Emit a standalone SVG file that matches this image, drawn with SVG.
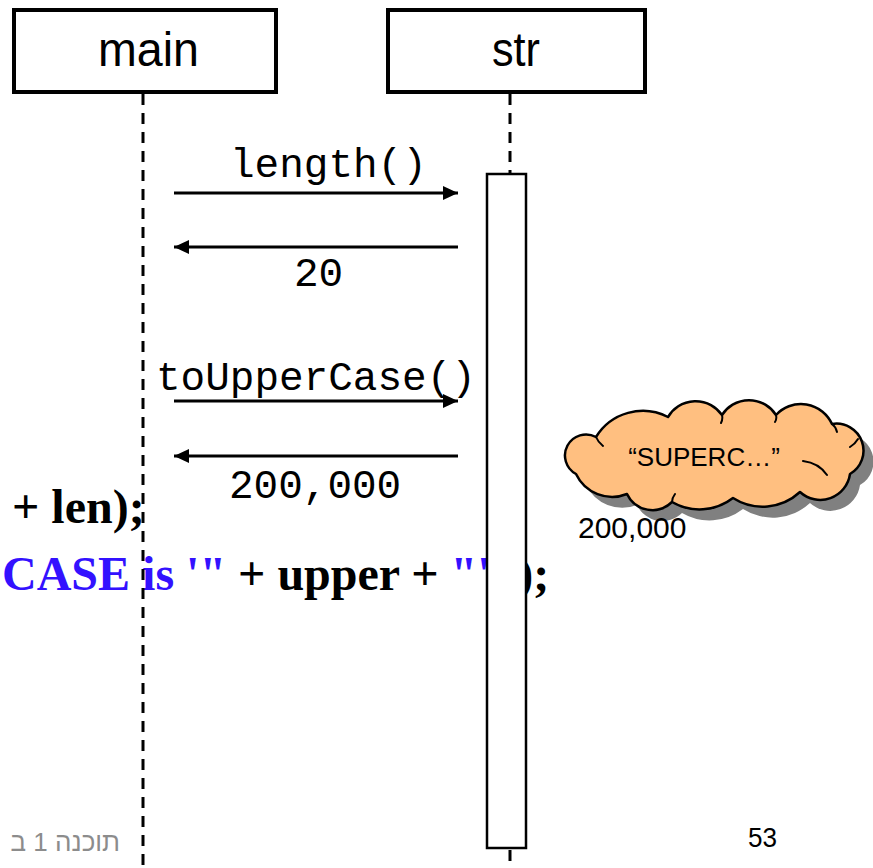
<svg xmlns="http://www.w3.org/2000/svg" width="873" height="868" viewBox="0 0 873 868">
<style>
.box{fill:#fff;stroke:#000;stroke-width:4}
.life{stroke:#000;stroke-width:3;stroke-dasharray:11 8;fill:none}
.msg{stroke:#000;stroke-width:3;fill:none}
.mono{font-family:"Liberation Mono","Courier New",monospace;font-size:41px;fill:#000}
.title{font-family:"Liberation Sans",Arial,sans-serif;font-size:48px;fill:#000}
.code{font-family:"Liberation Serif","Times New Roman",serif;font-size:48px;font-weight:bold;fill:#000}
.blue{fill:#3311ff}
.cloud{fill:#ffbf80;stroke:#000;stroke-width:2.5;stroke-linejoin:round}
.inner{fill:none;stroke:#000;stroke-width:2;stroke-linecap:round}
.sans{font-family:"Liberation Sans",Arial,sans-serif;fill:#000}
</style>
<defs>
<marker id="ah" markerUnits="userSpaceOnUse" markerWidth="16" markerHeight="16" refX="15" refY="7" orient="auto">
<path d="M0,0 L15,7 L0,14 z" fill="#000"/>
</marker>
<path id="cloudPath" d="M576,474 A21,21 0 0 1 596,437 A55,55 0 0 1 668,417 A32,32 0 0 1 722,415 A32,32 0 0 1 776,415 A34,34 0 0 1 832,424 A27,27 0 0 1 850,474 A30,30 0 0 1 800,492 A55,55 0 0 1 733,498 A55,55 0 0 1 672,502 A28,28 0 0 1 627,494 A40,40 0 0 1 576,474 Z"/>
</defs>

<g id="code">
<text class="code" x="12" y="523">+ len);</text>
<text class="code" x="2" y="590"><tspan class="blue">CASE is '"</tspan> + upper + <tspan class="blue">"'"</tspan>);</text>
</g>

<g id="main">
<rect class="box" x="14" y="10" width="262" height="82"/>
<text class="title" x="98" y="66" textLength="101" lengthAdjust="spacingAndGlyphs">main</text>
</g>

<g id="str">
<rect class="box" x="388" y="10" width="257" height="82"/>
<text class="title" x="492" y="66" textLength="48" lengthAdjust="spacingAndGlyphs">str</text>
</g>

<g id="lifelines">
<line class="life" x1="143" y1="94" x2="143" y2="868"/>
<line class="life" x1="510" y1="94" x2="510" y2="174"/>
<line class="life" x1="510" y1="850" x2="510" y2="868"/>
</g>

<g id="activation">
<rect x="487" y="174" width="39" height="674" fill="#fff" stroke="#000" stroke-width="2.5"/>
</g>

<g id="connectors">
<line class="msg" x1="174" y1="193" x2="458" y2="193" marker-end="url(#ah)"/>
<line class="msg" x1="458" y1="247" x2="174" y2="247" marker-end="url(#ah)"/>
<line class="msg" x1="174" y1="401" x2="458" y2="401" marker-end="url(#ah)"/>
<line class="msg" x1="458" y1="456" x2="174" y2="456" marker-end="url(#ah)"/>
</g>

<g id="labels">
<text class="mono" x="230" y="177">length()</text>
<text class="mono" x="294" y="286">20</text>
<text class="mono" x="156" y="390">toUpperCase()</text>
<text class="mono" x="229" y="498">200,000</text>
</g>

<g id="cloud">
<use href="#cloudPath" transform="translate(10,11)" fill="#808080"/>
<use href="#cloudPath" class="cloud"/>
<path class="inner" d="M596,437 q2,5 7,9 M722,415 q1,4 -1,8 M776,415 q1,4 -1,7 M832,424 q4,3 5,8 M803,461 q16,2 24,14 M672,502 q0,-4 3,-8 M850,447 q5,-3 8,-8"/>
<text class="sans" x="704" y="466" font-size="26" text-anchor="middle">“SUPERC…”</text>
</g>

<g id="ref-label">
<text class="sans" x="578" y="538" font-size="30">200,000</text>
</g>

<g id="footer">
<text x="120" y="851" font-family="'Liberation Sans','DejaVu Sans',sans-serif" font-size="26" fill="#8c8c8c" text-anchor="end">תוכנה 1 ב</text>
<text class="sans" x="748" y="847" font-size="28" textLength="29" lengthAdjust="spacingAndGlyphs">53</text>
</g>
</svg>
